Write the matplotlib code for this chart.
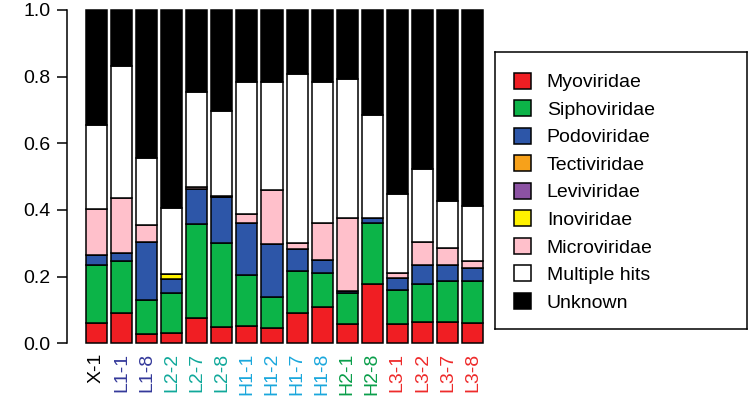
import matplotlib
matplotlib.use("Agg")
import matplotlib.pyplot as plt
from matplotlib.patches import Patch
import numpy as np

plt.rcParams["font.family"] = ["Liberation Sans", "DejaVu Sans"]
plt.rcParams["font.size"] = 14

samples = ["X-1", "L1-1", "L1-8", "L2-2", "L2-7", "L2-8", "H1-1", "H1-2",
           "H1-7", "H1-8", "H2-1", "H2-8", "L3-1", "L3-2", "L3-7", "L3-8"]
sample_colors = ["black", "#34399a", "#34399a", "#10a89a", "#10a89a", "#10a89a",
                 "#1aa7dc", "#1aa7dc", "#1aa7dc", "#1aa7dc", "#0a9e4a", "#0a9e4a",
                 "#ee2a2a", "#ee2a2a", "#ee2a2a", "#ee2a2a"]

# relative abundance of each family per sample
myoviridae = [0.060, 0.090, 0.028, 0.030, 0.077, 0.050, 0.053, 0.046,
              0.092, 0.110, 0.058, 0.178, 0.058, 0.064, 0.065, 0.060]
siphoviridae = [0.175, 0.158, 0.102, 0.120, 0.281, 0.252, 0.152, 0.092,
                0.126, 0.102, 0.092, 0.184, 0.102, 0.114, 0.123, 0.128]
podoviridae = [0.030, 0.024, 0.175, 0.042, 0.104, 0.136, 0.157, 0.159,
               0.064, 0.038, 0.006, 0.013, 0.035, 0.057, 0.047, 0.039]
tectiviridae = [0.0] * 16
leviviridae = [0.0] * 16
inoviridae = [0.0, 0.0, 0.0, 0.016, 0.0, 0.0, 0.0, 0.0,
              0.0, 0.0, 0.0, 0.0, 0.0, 0.0, 0.0, 0.0]
microviridae = [0.138, 0.163, 0.050, 0.0, 0.006, 0.005, 0.025, 0.163,
                0.020, 0.110, 0.221, 0.0, 0.015, 0.070, 0.052, 0.020]
multiple_hits = [0.252, 0.397, 0.200, 0.197, 0.285, 0.254, 0.396, 0.325,
                 0.506, 0.425, 0.416, 0.310, 0.237, 0.218, 0.140, 0.165]
unknown = [0.345, 0.168, 0.445, 0.595, 0.247, 0.303, 0.217, 0.215,
           0.192, 0.215, 0.207, 0.315, 0.553, 0.477, 0.573, 0.588]

families = ["Myoviridae", "Siphoviridae", "Podoviridae", "Tectiviridae", "Leviviridae",
            "Inoviridae", "Microviridae", "Multiple hits", "Unknown"]
family_values = [myoviridae, siphoviridae, podoviridae, tectiviridae, leviviridae,
                 inoviridae, microviridae, multiple_hits, unknown]
family_colors = ["#f01e23", "#0cb448", "#2d56a8", "#f7a11a", "#8c52a3",
                 "#fff200", "#ffc0cb", "white", "black"]

fig = plt.figure(figsize=(7.5, 4.13), dpi=100)
W, H = 750, 413

# plot area in pixels (bars span 86..483, y 0..1 -> 343..10)
left, right, top, bottom = 78, 490, 10, 343.3
ax = fig.add_axes([left / W, 1 - bottom / H, (right - left) / W, (bottom - top) / H])

x = np.arange(len(samples))
base = np.zeros(len(samples))
for vals, col in zip(family_values, family_colors):
    ax.bar(x, vals, bottom=base, width=0.84, color=col, edgecolor="black",
           linewidth=1.1, clip_on=False)
    base = base + np.array(vals)

pitch = 25.07
ax.set_xlim((left - 96.5) / pitch, (right - 96.5) / pitch)
ax.set_ylim(0, 1)

for s in ["top", "right", "bottom"]:
    ax.spines[s].set_visible(False)
ax.spines["left"].set_position(("outward", 8))
ax.spines["left"].set_bounds(0, 1)
ax.spines["left"].set_linewidth(1.1)

ax.set_yticks([0, 0.2, 0.4, 0.6, 0.8, 1.0])
ax.set_yticklabels(["0.0", "0.2", "0.4", "0.6", "0.8", "1.0"])
ax.tick_params(axis="y", length=7, width=1.1, pad=5)

ax.set_xticks(x)
ax.set_xticklabels(samples, rotation=90)
ax.tick_params(axis="x", length=0, pad=7)
for lbl, col in zip(ax.get_xticklabels(), sample_colors):
    lbl.set_color(col)

# legend in its own framed box
lax = fig.add_axes([495 / W, 1 - 329.3 / H, 252 / W, 277 / H])
lax.set_xticks([])
lax.set_yticks([])
for s in lax.spines.values():
    s.set_linewidth(1.1)
handles = [Patch(facecolor=c, edgecolor="black", linewidth=1.1) for c in family_colors]
lax.legend(handles, families, loc="upper left", bbox_to_anchor=(0.005, 0.99),
           frameon=False, handlelength=0.9, handleheight=0.9, handletextpad=0.8,
           labelspacing=0.45, fontsize=14)

fig.savefig("out.png", dpi=100)
